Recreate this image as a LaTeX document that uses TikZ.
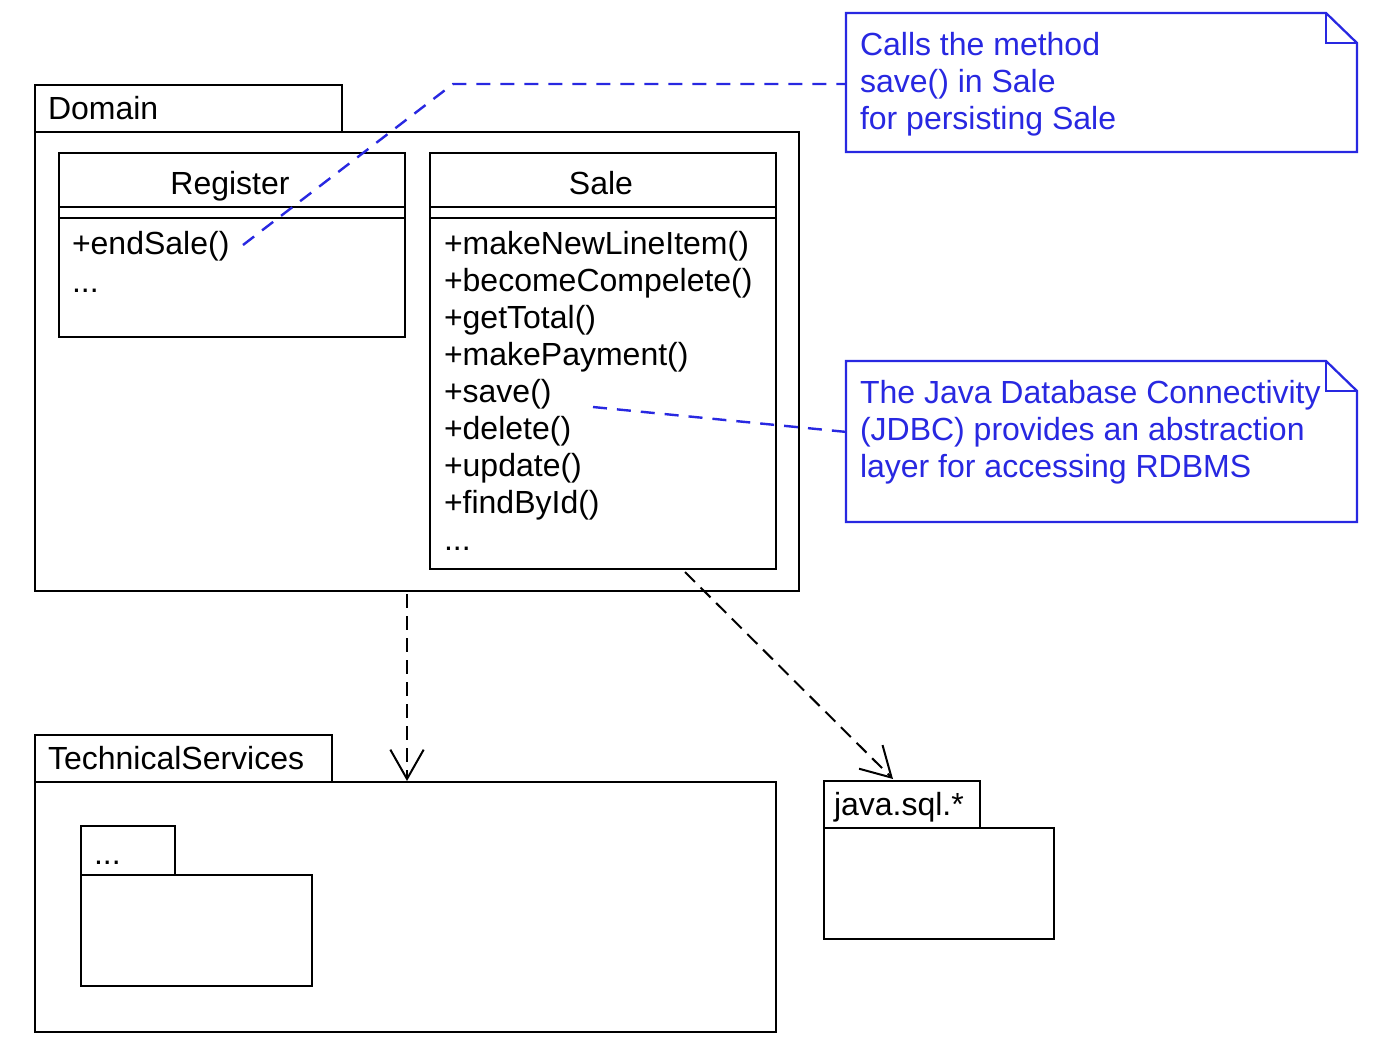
\documentclass[tikz,border=0pt]{standalone}
\usepackage{fontspec}
\setmainfont{Liberation Sans}
\usetikzlibrary{arrows.meta,fit,calc}
\definecolor{noteblue}{RGB}{40,40,225}
\begin{document}
\begin{tikzpicture}[x=0.75pt,y=-0.75pt,line width=1.5pt,
  pbox/.style={draw, inner sep=0pt, fit={#1}},
  txt/.style={font=\fontsize{24}{27.75}\selectfont, inner sep=0pt},
  bluetxt/.style={txt, text=noteblue},
  dep/.style={draw, dash pattern=on 10.5pt off 6pt,
    -{Straight Barb[length=22pt,width=25pt,line width=1.5pt]}},
  bluedash/.style={draw=noteblue, line width=1.8pt, dash pattern=on 10.5pt off 7.5pt},
  notebox/.style={inner sep=0pt, fit={#1}}]
\useasboundingbox (0,0) rectangle (1378,1047);
\fill[white] (0,0) rectangle (1378,1047);

% Domain package
\node[pbox={(35,85) (342,132)}] (domtab) {};
\node[pbox={(35,132) (799,591)}] (dombody) {};
\node[txt, anchor=base west] (domlbl) at (47,119) {Domain};

% Register class
\node[pbox={(59,153) (405,337)}] (reg) {};
\draw (reg.west |- 0,207) -- (reg.east |- 0,207);
\draw (reg.west |- 0,218) -- (reg.east |- 0,218);
\node[txt, anchor=base] (regname) at (230,194) {Register};
\node[txt, anchor=base west] (regm1) at (71,254) {+endSale()};
\node[txt, anchor=base west] (regdots) at (71,292) {...};

% Sale class
\node[pbox={(430,153) (776,569)}] (sale) {};
\draw (sale.west |- 0,207) -- (sale.east |- 0,207);
\draw (sale.west |- 0,218) -- (sale.east |- 0,218);
\node[txt, anchor=base] (salename) at (601,194) {Sale};
\foreach \m [count=\i from 0] in {+makeNewLineItem(),+becomeCompelete(),+getTotal(),+makePayment(),+save(),+delete(),+update(),+findById()}
  \node[txt, anchor=base west] (salem\i) at (443,254+37*\i) {\m};
\node[txt, anchor=base west] (saledots) at (443,550) {...};

% TechnicalServices package
\node[pbox={(35,735) (332,782)}] (tstab) {};
\node[pbox={(35,782) (776,1032)}] (tsbody) {};
\node[txt, anchor=base west] (tslbl) at (47,769) {TechnicalServices};
\node[pbox={(81,826) (175,875)}] (subtab) {};
\node[pbox={(81,875) (312,986)}] (subbody) {};
\node[txt, anchor=base west] (sublbl) at (93,864) {...};

% java.sql.* package
\node[pbox={(824,781) (980,828)}] (jtab) {};
\node[pbox={(824,828) (1054,939)}] (jbody) {};
\node[txt, anchor=base west] (jlbl) at (833,815) {java.sql.*};

% Notes
\node[notebox={(847,14) (1356,151)}] (note1) {};
\node[notebox={(847,362) (1356,521)}] (note2) {};
\foreach \n in {note1,note2}{
  \draw[noteblue, line width=1.7pt] (\n.north west) -- ($(\n.north east)+(-31,0)$) -- ($(\n.north east)+(0,30)$)
     -- (\n.south east) -- (\n.south west) -- cycle;
  \draw[noteblue, line width=1.7pt] ($(\n.north east)+(-31,0)$) -- ($(\n.north east)+(-31,30)$) -- ($(\n.north east)+(0,30)$);
}
\foreach \t [count=\i from 0] in {Calls the method,save() in Sale,for persisting Sale}
  \node[bluetxt, anchor=base west] (note1l\i) at (859,55+37*\i) {\t};
\foreach \t [count=\i from 0] in {The Java Database Connectivity,(JDBC) provides an abstraction,layer for accessing RDBMS}
  \node[bluetxt, anchor=base west] (note2l\i) at (859,403+37*\i) {\t};

% Note connectors
\coordinate (endsale) at (243,245);
\coordinate (bend) at (453,84);
\draw[bluedash] (endsale) -- (bend) -- (note1.west |- bend);
\coordinate (savept) at (593,407);
\coordinate (n2in) at (847,432);
\draw[bluedash] (savept) -- (n2in);

% Dependencies
\coordinate (d1) at (407,594);
\draw[dep] (d1) -- (d1 |- tsbody.north);
\coordinate (d2) at (685,572);
\coordinate (d2e) at (893,779);
\draw[dep] (d2) -- (d2e);
\end{tikzpicture}
\end{document}
